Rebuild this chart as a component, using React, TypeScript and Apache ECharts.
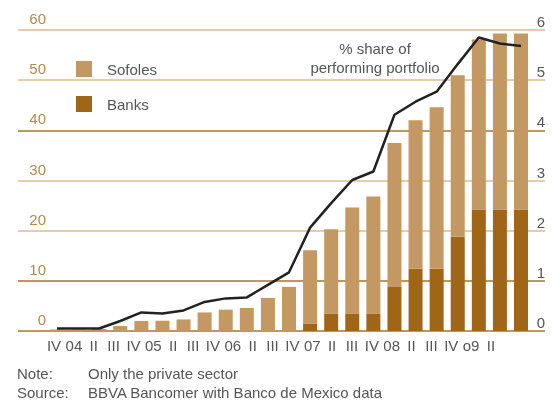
import React, { useEffect, useRef } from "react";
import * as echarts from "echarts";

// Quarters IV-2004 .. II-2010
const quarters = [
  "IV-04", "I-05", "II-05", "III-05", "IV-05", "I-06", "II-06", "III-06",
  "IV-06", "I-07", "II-07", "III-07", "IV-07", "I-08", "II-08", "III-08",
  "IV-08", "I-09", "II-09", "III-09", "IV-09", "I-10", "II-10",
];

const tickLabels = [
  "IV", "04", "II", "III", "IV", "05", "II", "III", "IV", "06", "II", "III",
  "IV", "07", "II", "III", "IV", "08", "II", "III", "IV", "o9", "II",
];

const banks = [
  0, 0, 0, 0, 0, 0, 0, 0, 0, 0, 0, 0,
  1.5, 3.5, 3.5, 3.5, 8.9, 12.4, 12.4, 18.8, 24.2, 24.2, 24.2,
];

const sofoles = [
  0.3, 0.3, 0.4, 1.0, 2.0, 2.05, 2.3, 3.7, 4.25, 4.6, 6.6, 8.8,
  14.6, 16.8, 21.1, 23.3, 28.6, 29.6, 32.2, 32.2, 33.9, 35.1, 35.1,
];

const sharePct = [
  0.05, 0.05, 0.05, 0.2, 0.37, 0.35, 0.41, 0.58, 0.65, 0.67, 0.92, 1.17,
  2.06, 2.55, 3.01, 3.18, 4.31, 4.57, 4.77, 5.32, 5.85, 5.73, 5.68,
];

const FONT = "'Liberation Sans', Arial, sans-serif";
const GRAY = "#555555";
const GOLD = "#b5884c";
const SOFOLES_C = "#c49863";
const BANKS_C = "#a06618";
const DARK_LINE = "#a8732c";
const LIGHT_LINE = "#d8bd93";

export default function App() {
  const ref = useRef<HTMLDivElement>(null);
  useEffect(() => {
    const chart = echarts.init(ref.current!, null, { renderer: "svg" });
    const top = 30;
    const bottom = 69;
    chart.setOption({
      animation: false,
      textStyle: { fontFamily: FONT },
      grid: [
        { left: 18, right: 12, top, bottom },
        { left: 46.45, right: 25.45, top, bottom },
        { left: 44.1, right: 56.1, top, bottom },
      ],
      legend: {
        data: ["Sofoles", "Banks"],
        orient: "vertical",
        left: 71,
        top: 56,
        itemWidth: 16,
        itemHeight: 16,
        itemGap: 19,
        icon: "rect",
        textStyle: {
          fontSize: 15,
          color: GRAY,
          fontFamily: FONT,
          padding: [0, 0, 0, 10],
          lineHeight: 16,
        },
      },
      xAxis: [
        { gridIndex: 0, type: "value", min: 0, max: 1, show: false },
        { gridIndex: 1, type: "category", data: quarters, show: false },
        {
          gridIndex: 2,
          type: "category",
          data: tickLabels,
          axisLine: { show: false },
          axisTick: { show: false },
          axisLabel: {
            interval: 0,
            color: GRAY,
            fontSize: 15,
            fontFamily: FONT,
            margin: 7,
          },
        },
      ],
      yAxis: [
        {
          gridIndex: 0,
          type: "value",
          min: 0,
          max: 60,
          interval: 10,
          position: "left",
          axisLine: { show: false },
          axisTick: { show: false },
          splitLine: {
            show: true,
            lineStyle: {
              width: 1.5,
              color: [DARK_LINE, DARK_LINE, LIGHT_LINE, LIGHT_LINE, DARK_LINE, LIGHT_LINE, LIGHT_LINE],
            },
          },
          axisLabel: {
            inside: true,
            align: "right",
            margin: 28,
            verticalAlign: "bottom",
            padding: [0, 0, 4, 0],
            color: GOLD,
            fontSize: 15,
            fontFamily: FONT,
          },
        },
        {
          gridIndex: 0,
          type: "value",
          min: 0,
          max: 6,
          interval: 1,
          position: "right",
          axisLine: { show: false },
          axisTick: { show: false },
          splitLine: { show: false },
          axisLabel: {
            inside: true,
            align: "right",
            margin: 0,
            verticalAlign: "bottom",
            padding: [0, 0, 1, 0],
            color: GRAY,
            fontSize: 15,
            fontFamily: FONT,
          },
        },
        { gridIndex: 1, type: "value", min: 0, max: 60, show: false },
        { gridIndex: 1, type: "value", min: 0, max: 6, show: false, position: "right" },
        { gridIndex: 2, type: "value", min: 0, max: 1, show: false },
      ],
      series: [
        {
          name: "Banks",
          type: "bar",
          xAxisIndex: 1,
          yAxisIndex: 2,
          stack: "total",
          barWidth: 14,
          itemStyle: { color: BANKS_C },
          data: banks,
        },
        {
          name: "Sofoles",
          type: "bar",
          xAxisIndex: 1,
          yAxisIndex: 2,
          stack: "total",
          barWidth: 14,
          itemStyle: { color: SOFOLES_C },
          data: sofoles,
        },
        {
          name: "% share of performing portfolio",
          type: "line",
          xAxisIndex: 1,
          yAxisIndex: 3,
          symbol: "none",
          lineStyle: { color: "#222222", width: 2.5 },
          data: sharePct,
          z: 5,
        },
      ],
      graphic: [
        {
          type: "text",
          x: 375,
          y: 38.5,
          style: {
            text: "% share of\nperforming portfolio",
            align: "center",
            verticalAlign: "top",
            fill: GRAY,
            font: `15px ${FONT}`,
            lineHeight: 19,
          },
        },
        {
          type: "text",
          x: 17,
          y: 373,
          style: { text: "Note:", verticalAlign: "middle", fill: GRAY, font: `15px ${FONT}` },
        },
        {
          type: "text",
          x: 88,
          y: 373,
          style: { text: "Only the private sector", verticalAlign: "middle", fill: GRAY, font: `15px ${FONT}` },
        },
        {
          type: "text",
          x: 17,
          y: 392,
          style: { text: "Source:", verticalAlign: "middle", fill: GRAY, font: `15px ${FONT}` },
        },
        {
          type: "text",
          x: 88,
          y: 392,
          style: {
            text: "BBVA Bancomer with Banco de Mexico data",
            verticalAlign: "middle",
            fill: GRAY,
            font: `15px ${FONT}`,
          },
        },
      ],
    });
    return () => chart.dispose();
  }, []);
  return (
    <div
      ref={ref}
      style={{ position: "fixed", left: 0, top: 0, width: 557, height: 400 }}
    />
  );
}
